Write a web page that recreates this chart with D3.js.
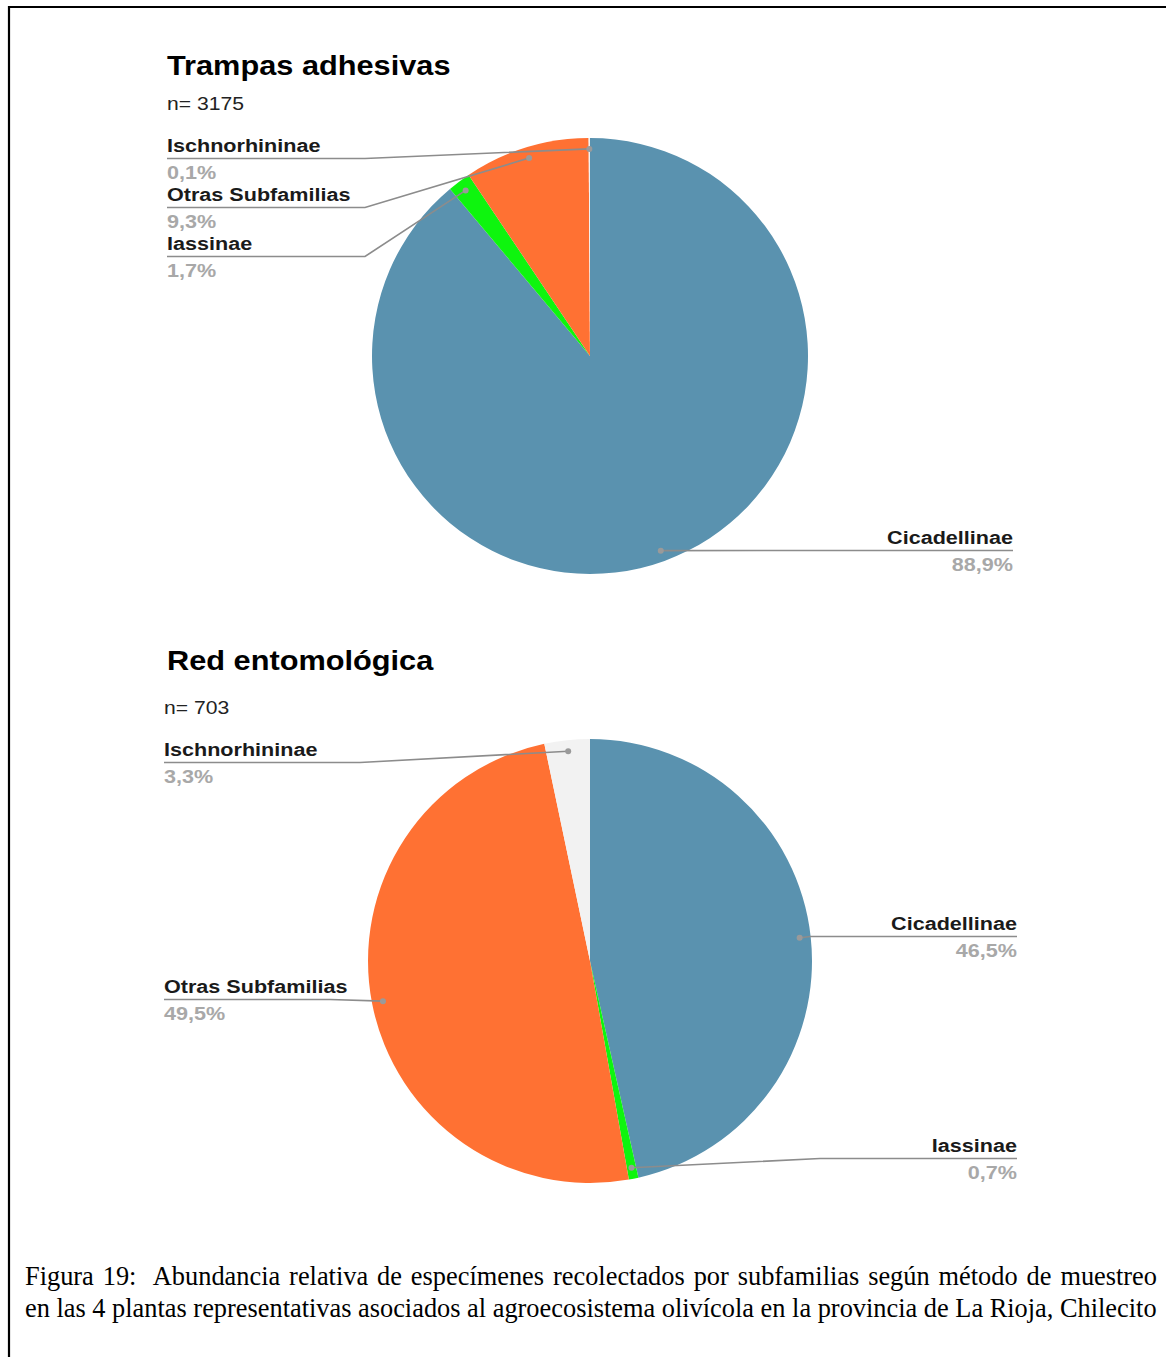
<!DOCTYPE html>
<html>
<head>
<meta charset="utf-8">
<script src="https://cdn.jsdelivr.net/npm/d3@7"></script>
<style>
  html, body { margin: 0; padding: 0; background: #fff; }
  svg { display: block; }
</style>
</head>
<body>
<svg id="fig" width="1166" height="1357"></svg>
<script>
// Subfamilies, in the order the slices run clockwise from 12 o'clock
const subfamilies = ["Cicadellinae", "Iassinae", "Otras Subfamilias", "Ischnorhininae"];
// Relative abundance (%) for each sampling method
const trampasPct = [88.9, 1.7, 9.3, 0.1];   // Trampas adhesivas, n = 3175
const redPct     = [46.5, 0.7, 49.5, 3.3];  // Red entomológica, n = 703
const chartTitles = ["Trampas adhesivas", "Red entomológica"];
const sampleSizes = ["n= 3175", "n= 703"];
const captionLines = [
  "Figura 19:  Abundancia relativa de especímenes recolectados por subfamilias según método de muestreo",
  "en las 4 plantas representativas asociados al agroecosistema olivícola en la provincia de La Rioja, Chilecito"
];

// Slice colours per subfamily
const sliceColors = {
  "Cicadellinae": "#5a92af",
  "Iassinae": "#0ef50e",
  "Otras Subfamilias": "#ff7133",
  "Ischnorhininae": "#f2f2f2"
};

// Layout of each chart panel: pie geometry and leader-label placement
const panels = [
  {
    values: trampasPct, title: chartTitles[0], n: sampleSizes[0],
    titleX: 167, titleY: 75, nX: 167, nY: 110,
    cx: 590, cy: 356, r: 218,
    labels: {
      "Ischnorhininae":    { side: "left",  x: 167, y: 152, elbowX: 365 },
      "Otras Subfamilias": { side: "left",  x: 167, y: 201, elbowX: 365 },
      "Iassinae":          { side: "left",  x: 167, y: 250, elbowX: 365 },
      "Cicadellinae":      { side: "right", x: 1013, y: 544, elbowX: 822 }
    }
  },
  {
    values: redPct, title: chartTitles[1], n: sampleSizes[1],
    titleX: 167, titleY: 670, nX: 164, nY: 714,
    cx: 590, cy: 961, r: 222,
    labels: {
      "Ischnorhininae":    { side: "left",  x: 164, y: 756, elbowX: 360 },
      "Cicadellinae":      { side: "right", x: 1017, y: 930, elbowX: 810 },
      "Otras Subfamilias": { side: "left",  x: 164, y: 993, elbowX: 330 },
      "Iassinae":          { side: "right", x: 1017, y: 1152, elbowX: 820 }
    }
  }
];

const svg = d3.select("#fig");
const FONT = "Arial, 'Liberation Sans', sans-serif";
const STRETCH = 1.13;   // the chart typeface runs a little wider than Arial

// widen a text element horizontally by the STRETCH factor
function widen(sel) {
  sel.each(function () {
    const w = this.getComputedTextLength();
    d3.select(this).attr("textLength", w * STRETCH).attr("lengthAdjust", "spacingAndGlyphs");
  });
  return sel;
}

// frame around the figure
svg.append("path")
  .attr("d", "M9,1357 V7 H1166")
  .attr("fill", "none").attr("stroke", "#000").attr("stroke-width", 2.2);

const fmt = v => d3.format(".1f")(v).replace(".", ",") + "%";

panels.forEach(p => {
  const g = svg.append("g");
  const data = subfamilies.map((name, i) => ({ name, value: p.values[i] }));

  g.append("text").attr("x", p.titleX).attr("y", p.titleY)
    .attr("font-family", FONT).attr("font-weight", "bold").attr("font-size", 27.2)
    .attr("fill", "#000").text(p.title).call(widen);

  g.append("text").attr("x", p.nX).attr("y", p.nY)
    .attr("font-family", FONT).attr("font-size", 18.7)
    .attr("fill", "#222").text(p.n).call(widen);

  const pie = d3.pie().sort(null).value(d => d.value);
  const arcs = pie(data);
  const arc = d3.arc().innerRadius(0).outerRadius(p.r);
  const dotArc = d3.arc().innerRadius(p.r * 0.95).outerRadius(p.r * 0.95);

  const pg = g.append("g").attr("transform", `translate(${p.cx},${p.cy})`);
  pg.selectAll("path.slice").data(arcs).join("path")
    .attr("class", "slice")
    .attr("d", arc)
    .attr("fill", d => sliceColors[d.data.name]);

  // leader lines, dots and labels
  arcs.forEach(a => {
    const L = p.labels[a.data.name];
    const c = dotArc.centroid(a);
    const dx = p.cx + c[0], dy = p.cy + c[1];
    const uy = L.y + 6.5;
    g.append("path")
      .attr("d", `M${dx},${dy} L${L.elbowX},${uy} L${L.x},${uy}`)
      .attr("fill", "none").attr("stroke", "#8c8c8c").attr("stroke-width", 1.6);
    g.append("circle").attr("cx", dx).attr("cy", dy).attr("r", 3)
      .attr("fill", "#9a9a9a");

    const anchor = L.side === "left" ? "start" : "end";
    g.append("text").attr("x", L.x).attr("y", L.y)
      .attr("font-family", FONT).attr("font-weight", "bold").attr("font-size", 19.1)
      .attr("fill", "#1a1a1a").attr("text-anchor", anchor).text(a.data.name).call(widen);
    g.append("text").attr("x", L.x).attr("y", L.y + 27)
      .attr("font-family", FONT).attr("font-weight", "bold").attr("font-size", 19.1)
      .attr("fill", "#a8a8a8").attr("text-anchor", anchor).text(fmt(a.data.value)).call(widen);
  });
});

// figure caption: the last line sets the type size, the first is justified by word spacing
const capLeft = 25, capRight = 1157, capWidth = capRight - capLeft;
const capFont = "'Liberation Serif', 'Times New Roman', serif";
const capTexts = captionLines.map((line, i) =>
  svg.append("text")
    .attr("x", capLeft).attr("y", 1285 + i * 32)
    .attr("font-family", capFont).attr("font-size", 20)
    .attr("fill", "#000")
    .style("white-space", "pre")
    .text(line)
);
const baseW = capTexts[1].node().getComputedTextLength();
const capSize = 20 * capWidth / baseW;
capTexts.forEach((t, i) => {
  t.attr("font-size", capSize);
  const w = t.node().getComputedTextLength();
  const spaces = (captionLines[i].match(/ /g) || []).length;
  const extra = (capWidth - w) / spaces;
  if (extra > 0.1) t.attr("word-spacing", extra);
});
</script>
</body>
</html>
